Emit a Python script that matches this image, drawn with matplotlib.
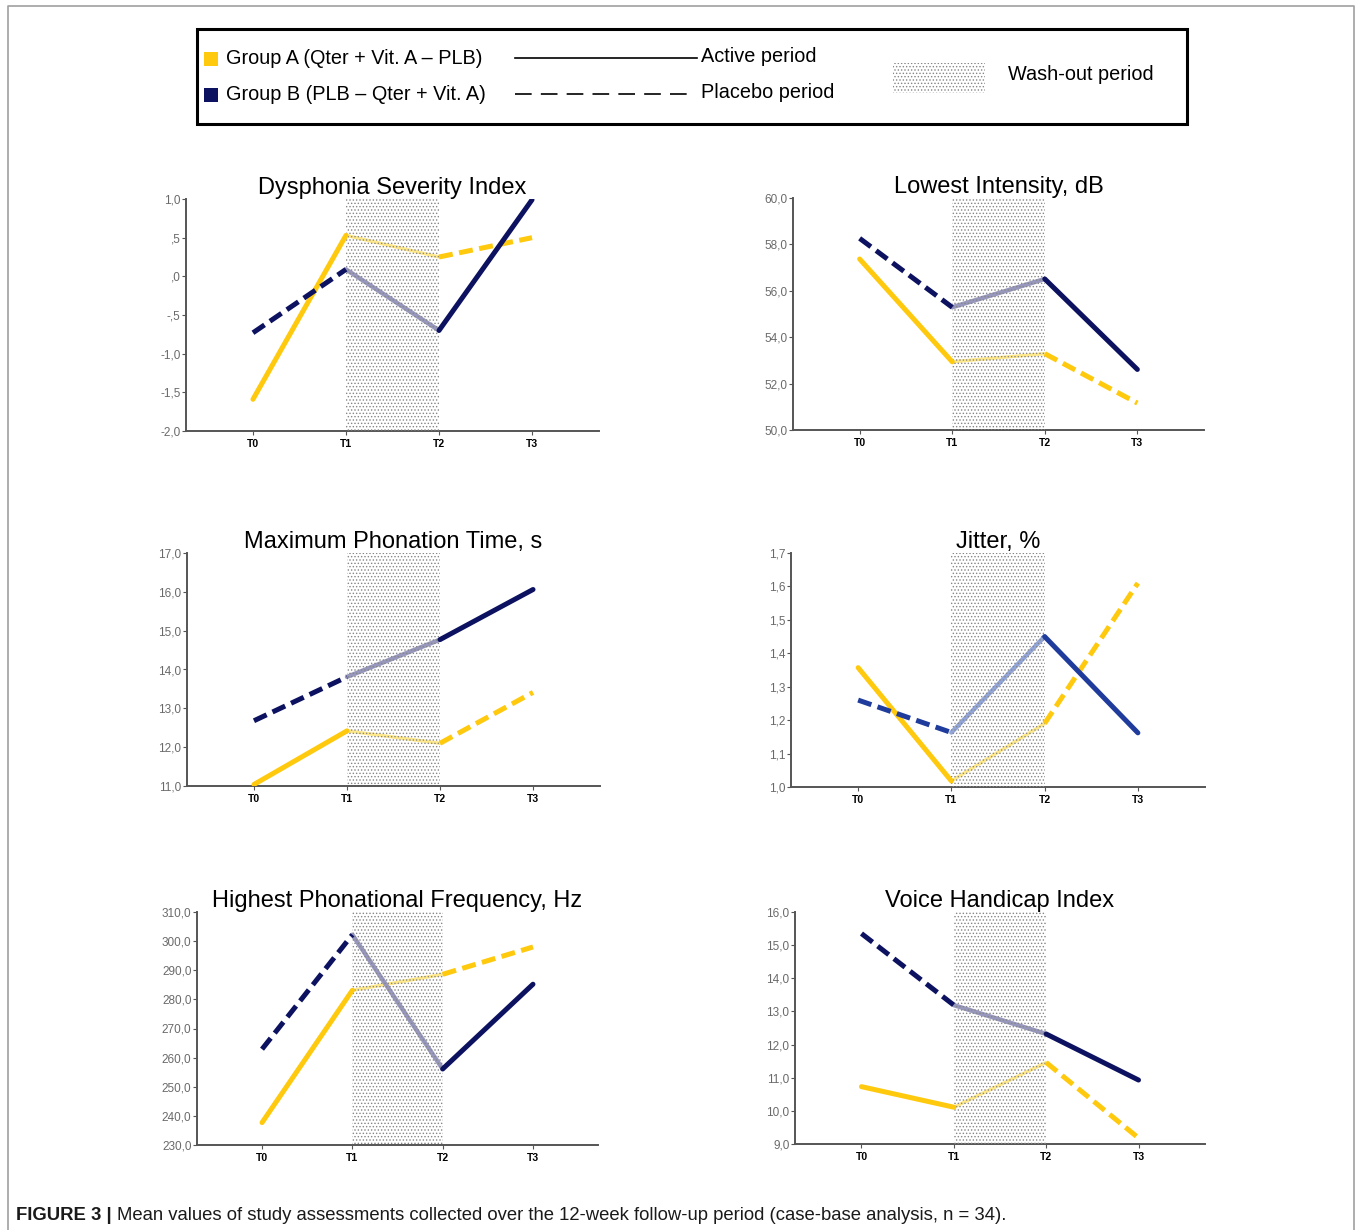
import numpy as np
import matplotlib
matplotlib.use("Agg")
import matplotlib.pyplot as plt
from matplotlib.ticker import FuncFormatter
from matplotlib.patches import Rectangle

plt.rcParams['font.family'] = ['Liberation Sans', 'DejaVu Sans']
plt.rcParams['hatch.linewidth'] = 0.6

W, H = 1357, 1230

timepoints = ["T0", "T1", "T2", "T3"]

titles = ["Dysphonia Severity Index", "Lowest Intensity, dB",
          "Maximum Phonation Time, s", "Jitter, %",
          "Highest Phonational Frequency, Hz", "Voice Handicap Index"]

group_a = [
    [-1.59, 0.53, 0.25, 0.50],
    [57.37, 52.94, 53.29, 51.16],
    [11.04, 12.42, 12.10, 13.41],
    [1.357, 1.018, 1.19, 1.61],
    [237.7, 283.1, 288.6, 298.0],
    [10.73, 10.11, 11.46, 9.18],
]
group_b = [
    [-0.73, 0.09, -0.70, 0.99],
    [58.26, 55.29, 56.51, 52.61],
    [12.68, 13.81, 14.77, 16.06],
    [1.26, 1.163, 1.45, 1.162],
    [262.9, 302.2, 256.1, 285.2],
    [15.35, 13.19, 12.32, 10.93],
]

y_ranges = [(-2.0, 1.0, 0.5), (50.0, 60.0, 2.0), (11.0, 17.0, 1.0),
            (1.0, 1.7, 0.1), (230.0, 310.0, 10.0), (9.0, 16.0, 1.0)]

# panel boxes in pixels: left, top, right, bottom
boxes = [(186, 199, 599, 431), (793, 198, 1204, 430),
         (187, 553, 600, 786), (791, 553, 1205, 787),
         (197, 912, 598, 1145), (795, 912, 1205, 1144)]

yellow = "#FFC90E"
yellow_light = "#FFE98A"
navy = "#0C1160"
navy_light = "#9898BE"
blue_jit = "#1F3C9C"
blue_jit_light = "#93A6DA"
stipple = "#858585"


def rect(l, t, r, b):
    return [l / W, 1 - b / H, (r - l) / W, (b - t) / H]


def fmt_val(v, pos, drop_zero=False):
    s = "%.1f" % v
    s = s.replace(".", ",")
    if drop_zero:
        if s.startswith("0,"):
            s = s[1:]
        elif s.startswith("-0,"):
            s = "-" + s[2:]
    if s in ("-0,0", "-,0"):
        s = s.replace("-", "")
    return s


fig = plt.figure(figsize=(W / 100, H / 100), dpi=100)

x = np.arange(len(timepoints))
lw = 3.6

for i in range(6):
    ax = fig.add_axes(rect(*boxes[i]))
    ya = group_a[i]
    yb = group_b[i]
    cb, cbl = (blue_jit, blue_jit_light) if i == 3 else (navy, navy_light)

    # wash-out segments (under the stipple)
    ax.plot(x[1:3], ya[1:3], color=yellow_light, lw=2.4, zorder=2,
            solid_capstyle="round")
    ax.plot(x[1:3], yb[1:3], color=cbl, lw=3.2, zorder=2,
            solid_capstyle="round")
    ax.axvspan(1, 2, facecolor="none", edgecolor=stipple, hatch=".....",
               lw=0, zorder=3)

    # group A: active then placebo
    ax.plot(x[0:2], ya[0:2], color=yellow, lw=lw, zorder=4,
            solid_capstyle="round")
    ax.plot(x[2:4], ya[2:4], color=yellow, lw=lw, zorder=4,
            dashes=(2.8, 1.3), dash_capstyle="butt")
    # group B: placebo then active
    ax.plot(x[0:2], yb[0:2], color=cb, lw=lw, zorder=5,
            dashes=(2.8, 1.3), dash_capstyle="butt")
    ax.plot(x[2:4], yb[2:4], color=cb, lw=lw, zorder=5,
            solid_capstyle="round")

    lo, hi, step = y_ranges[i]
    ax.set_ylim(lo, hi)
    ax.set_xlim(-0.72, 3.72)
    ax.set_yticks(np.arange(lo, hi + step / 2, step))
    drop = (i == 0)
    ax.yaxis.set_major_formatter(FuncFormatter(lambda v, p, d=drop: fmt_val(v, p, d)))
    ax.set_xticks(x)
    ax.set_xticklabels(timepoints, fontweight="bold", fontsize=7.5)
    ax.tick_params(axis="y", labelsize=8.5, labelcolor="#6a6a6a", length=3,
                   width=0.8, color="#555555", pad=1)
    ax.tick_params(axis="x", length=3, width=0.8, color="#555555", pad=3)
    for side in ("top", "right"):
        ax.spines[side].set_visible(False)
    for side in ("left", "bottom"):
        ax.spines[side].set_color("#555555")
        ax.spines[side].set_linewidth(1.4)
    ax.set_title(titles[i], fontsize=17, pad=2)

# overlay in pixel units for legend, frame and caption
ov = fig.add_axes([0, 0, 1, 1], zorder=10)
ov.set_xlim(0, W)
ov.set_ylim(H, 0)
ov.axis("off")
ov.patch.set_alpha(0)

# outer frame (no bottom edge)
ov.plot([8, 8, 1354, 1354], [1230, 6, 6, 1230], color="#a0a0a0", lw=1.2)

# legend box
ov.add_patch(Rectangle((197, 29), 990, 95, facecolor="white",
                       edgecolor="black", lw=2.2))
ov.add_patch(Rectangle((204, 52), 14, 14, color=yellow, lw=0))
ov.add_patch(Rectangle((204, 88), 14, 14, color=navy, lw=0))
ov.text(226, 59, "Group A (Qter + Vit. A \u2013 PLB)", fontsize=14.3, va="center")
ov.text(226, 95, "Group B (PLB \u2013 Qter + Vit. A)", fontsize=14.3, va="center")
ov.plot([515, 697], [58, 58], color="black", lw=1.2)
ov.plot([515, 692], [94, 94], color="black", lw=1.2, dashes=(10, 5.5))
ov.text(701, 57, "Active period", fontsize=14.3, va="center")
ov.text(701, 92, "Placebo period", fontsize=14.3, va="center")
ov.add_patch(Rectangle((893, 63), 92, 30, facecolor="white",
                       edgecolor=stipple, hatch=".....", lw=0))
ov.text(1008, 75, "Wash-out period", fontsize=14.3, va="center")

# caption
cap = ov.text(16, 1215, "FIGURE 3 |", fontsize=13.3, fontweight="bold",
              va="center", color="#1a1a1a")
ov.annotate("Mean values of study assessments collected over the 12-week "
            "follow-up period (case-base analysis, n = 34).",
            xy=(1, 0.5), xycoords=cap, xytext=(4, 0),
            textcoords="offset points", va="center", fontsize=13.3,
            color="#1a1a1a")

fig.savefig("out.png", dpi=100)
